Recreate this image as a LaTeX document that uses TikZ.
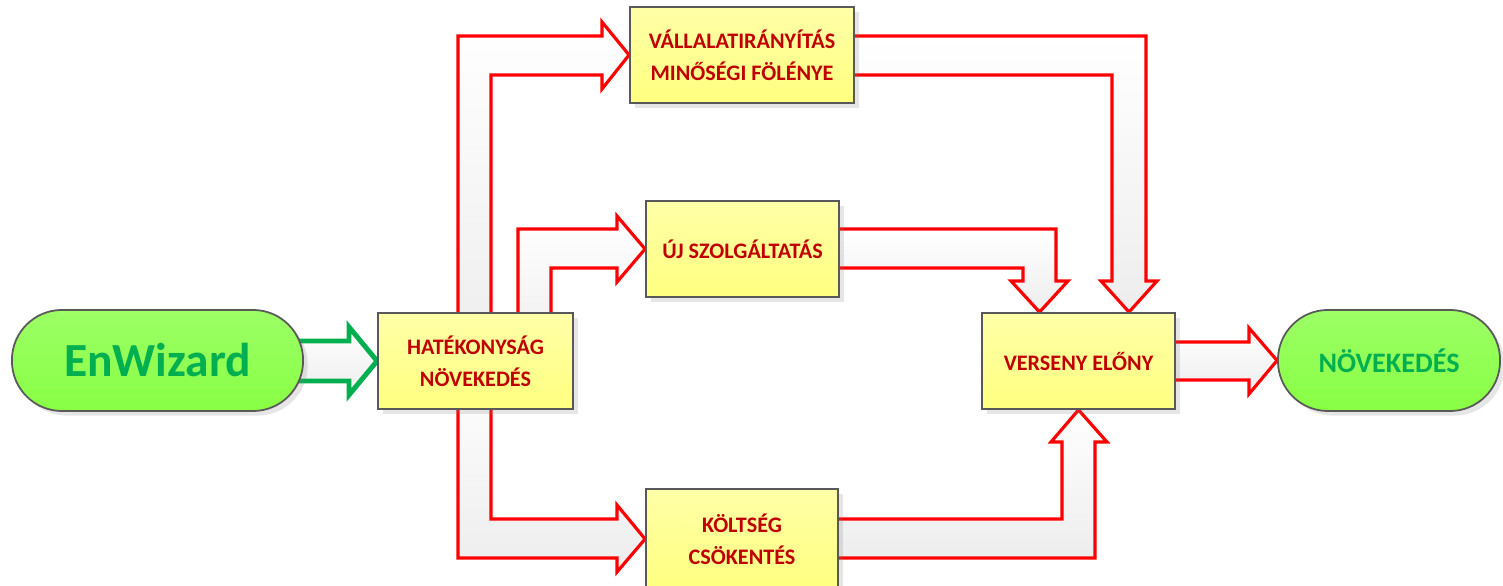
\documentclass[tikz,border=0pt]{standalone}
\usepackage{fontspec}
\setmainfont{Carlito}
\usetikzlibrary{shadows}
\pgfdeclarelayer{background}
\pgfsetlayers{background,main}

\definecolor{boxtop}{HTML}{FFFFA8}
\definecolor{boxbot}{HTML}{FFFF80}
\definecolor{pilltop}{HTML}{9CFF66}
\definecolor{pillbot}{HTML}{88FF44}
\definecolor{boxtext}{HTML}{C00000}
\definecolor{pilltext}{HTML}{00B050}
\definecolor{edge}{HTML}{595959}

\tikzset{
  box/.style={draw=edge, line width=0.5pt, top color=boxtop, bottom color=boxbot,
    minimum height=0.96cm, align=center, text=boxtext,
    font=\fontsize{6.3}{9}\selectfont\bfseries,
    drop shadow={shadow xshift=1.3pt, shadow yshift=-1.3pt, opacity=0.2}},
  pill/.style={draw=edge, line width=0.5pt, top color=pilltop, bottom color=pillbot,
    minimum height=1.01cm, rounded corners=0.5cm, text=pilltext,
    drop shadow={shadow xshift=1.3pt, shadow yshift=-1.3pt, opacity=0.2}},
  blockarrow/.style={draw=red, line width=0.9pt, line join=miter,
    top color=white, bottom color=gray!14},
  greenarrow/.style={draw=pilltext, line width=1.4pt, line join=miter,
    top color=white, bottom color=gray!14}
}

\begin{document}
\begin{tikzpicture}[x=0.01cm, y=-0.01cm]
  \useasboundingbox (0,0) rectangle (1503,586);

  % dobozok
  \node[pill, minimum width=2.91cm, font=\fontsize{13.5}{16}\selectfont\bfseries] (enw) at (157.5,360.5) {EnWizard};
  \node[box, minimum width=1.95cm] (hat) at (475.5,361) {HATÉKONYSÁG\\NÖVEKEDÉS};
  \node[box, minimum width=2.24cm] (vall) at (742,55) {VÁLLALATIRÁNYÍTÁS\\MINŐSÉGI FÖLÉNYE};
  \node[box, minimum width=1.93cm] (uj) at (742.5,249) {ÚJ SZOLGÁLTATÁS};
  \node[box, minimum width=1.92cm, minimum height=1.0cm] (kolt) at (742,539) {KÖLTSÉG\\CSÖKENTÉS};
  \node[box, minimum width=1.93cm] (verseny) at (1078.5,361) {VERSENY ELŐNY};
  \node[pill, minimum width=2.22cm, font=\fontsize{8}{10}\selectfont\bfseries] (nov) at (1389,360.5) {NÖVEKEDÉS};

  % nyilak
  \begin{pgfonlayer}{background}
    \filldraw[greenarrow] (0,341 -| enw.center) -- (349,341) -- (349,327) -- (hat.west)
      -- (349,395) -- (349,381) -- (0,381 -| enw.center) -- cycle;

    \filldraw[blockarrow] (458,0 |- hat.center) -- (458,36) -- (602,36) -- (602,22) -- (vall.west)
      -- (602,89) -- (602,75) -- (491,75) -- (491,0 |- hat.center) -- cycle;
    \filldraw[blockarrow] (518,0 |- hat.center) -- (518,229) -- (617,229) -- (617,216) -- (uj.west)
      -- (617,282) -- (617,268) -- (551,268) -- (551,0 |- hat.center) -- cycle;
    \filldraw[blockarrow] (458,0 |- hat.center) -- (458,558) -- (617,558) -- (617,572) -- (kolt.west)
      -- (617,505) -- (617,519) -- (491,519) -- (491,0 |- hat.center) -- cycle;

    \filldraw[blockarrow] (0,36 -| vall.center) -- (1146,36) -- (1146,281) -- (1157,281)
      -- (1129,0 |- verseny.north) -- (1101,281) -- (1112,281) -- (1112,75) -- (0,75 -| vall.center) -- cycle;
    \filldraw[blockarrow] (0,229 -| uj.center) -- (1056,229) -- (1056,281) -- (1068,281)
      -- (1039.5,0 |- verseny.north) -- (1011,281) -- (1023,281) -- (1023,268) -- (0,268 -| uj.center) -- cycle;
    \filldraw[blockarrow] (0,519 -| kolt.center) -- (1062,519) -- (1062,442) -- (1051,442)
      -- (verseny.south) -- (1107,442) -- (1095,442) -- (1095,558) -- (0,558 -| kolt.center) -- cycle;

    \filldraw[blockarrow] (0,342 -| verseny.center) -- (1249,342) -- (1249,328) -- (nov.west)
      -- (1249,394) -- (1249,380) -- (0,380 -| verseny.center) -- cycle;
  \end{pgfonlayer}
\end{tikzpicture}
\end{document}
